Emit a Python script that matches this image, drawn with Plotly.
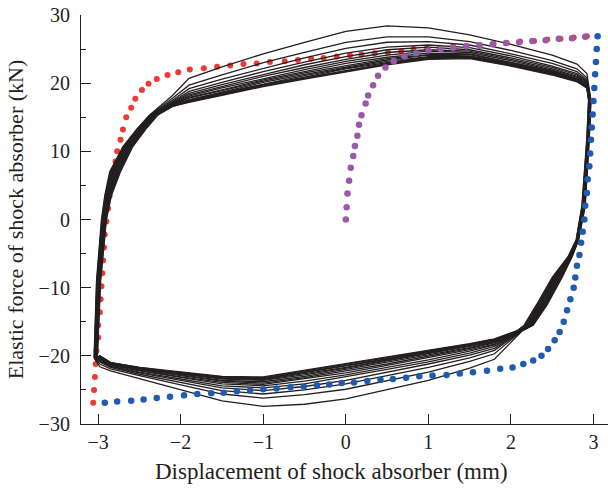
import plotly.graph_objects as go

# ---------------- data ----------------
# Hysteresis loops (outermost first cycle -> innermost stabilised cycle)
# upper branch: shared x knots, y per cycle
X_TOP = [-2.1, -1.9, -1.5, -1.0, -0.5, 0.0, 0.5, 1.0, 1.5, 2.0, 2.5, 2.8, 2.92]
TOP_Y = [
    [18.2, 20.7, 22.4, 24.3, 26.0, 27.6, 28.4, 28.1, 27.1, 25.7, 24.1, 22.8, 21.4],
    [17.8, 19.7, 21.2, 23.0, 24.5, 26.0, 26.8, 26.8, 26.1, 24.8, 23.3, 22.1, 20.8],
    [17.5, 19.2, 20.6, 22.2, 23.7, 25.1, 26.0, 26.1, 25.6, 24.3, 22.9, 21.7, 20.5],
    [17.3, 18.8, 20.1, 21.7, 23.1, 24.4, 25.3, 25.6, 25.2, 24.0, 22.5, 21.4, 20.3],
    [17.2, 18.5, 19.8, 21.3, 22.7, 23.9, 24.9, 25.3, 24.9, 23.7, 22.3, 21.2, 20.1],
    [17.1, 18.3, 19.5, 21.0, 22.3, 23.5, 24.5, 24.9, 24.7, 23.5, 22.1, 21.0, 20.0],
    [17.0, 18.1, 19.3, 20.7, 22.0, 23.2, 24.1, 24.7, 24.5, 23.3, 21.9, 20.9, 19.8],
    [16.9, 17.9, 19.0, 20.5, 21.7, 22.9, 23.8, 24.4, 24.3, 23.1, 21.8, 20.7, 19.7],
    [16.9, 17.8, 18.9, 20.3, 21.5, 22.6, 23.6, 24.2, 24.2, 23.0, 21.7, 20.6, 19.6],
    [16.8, 17.6, 18.7, 20.1, 21.3, 22.4, 23.4, 24.1, 24.0, 22.9, 21.6, 20.5, 19.6],
    [16.7, 17.5, 18.6, 19.9, 21.1, 22.2, 23.2, 23.9, 23.9, 22.8, 21.5, 20.4, 19.5],
    [16.7, 17.4, 18.5, 19.8, 20.9, 22.1, 23.0, 23.8, 23.8, 22.7, 21.4, 20.4, 19.4],
    [16.7, 17.3, 18.4, 19.7, 20.8, 21.9, 22.9, 23.7, 23.7, 22.6, 21.3, 20.3, 19.4],
    [16.6, 17.3, 18.3, 19.6, 20.7, 21.8, 22.8, 23.6, 23.7, 22.6, 21.3, 20.3, 19.3],
    [16.6, 17.2, 18.2, 19.5, 20.6, 21.7, 22.7, 23.5, 23.6, 22.5, 21.2, 20.2, 19.3],
]
# lower branch: shared x knots (right to left), y per cycle
X_BOT = [1.8, 1.5, 1.0, 0.5, 0.0, -0.5, -1.0, -1.5, -2.0, -2.5, -2.85, -2.98]
BOT_Y = [
    [-20.5, -21.8, -23.6, -25.0, -26.3, -27.1, -27.4, -26.6, -25.0, -23.4, -22.2, -21.6],
    [-19.7, -20.8, -22.4, -23.7, -24.9, -25.7, -26.2, -25.6, -24.3, -22.9, -21.9, -21.2],
    [-19.2, -20.3, -21.7, -22.9, -24.1, -25.0, -25.6, -25.1, -23.9, -22.7, -21.7, -20.9],
    [-18.9, -19.9, -21.2, -22.4, -23.6, -24.5, -25.1, -24.7, -23.6, -22.5, -21.6, -20.7],
    [-18.6, -19.6, -20.9, -22.0, -23.1, -24.1, -24.7, -24.4, -23.4, -22.4, -21.5, -20.6],
    [-18.4, -19.3, -20.6, -21.7, -22.8, -23.7, -24.4, -24.1, -23.2, -22.2, -21.4, -20.5],
    [-18.3, -19.1, -20.3, -21.4, -22.5, -23.4, -24.2, -23.9, -23.1, -22.1, -21.3, -20.4],
    [-18.1, -18.9, -20.1, -21.2, -22.2, -23.2, -24.0, -23.7, -22.9, -22.0, -21.2, -20.3],
    [-18.0, -18.8, -19.9, -21.0, -22.0, -23.0, -23.8, -23.6, -22.8, -22.0, -21.2, -20.3],
    [-17.9, -18.6, -19.7, -20.8, -21.8, -22.8, -23.6, -23.4, -22.7, -21.9, -21.1, -20.2],
    [-17.8, -18.5, -19.6, -20.6, -21.7, -22.6, -23.5, -23.3, -22.6, -21.9, -21.1, -20.1],
    [-17.7, -18.4, -19.5, -20.5, -21.5, -22.5, -23.4, -23.2, -22.6, -21.8, -21.1, -20.1],
    [-17.6, -18.3, -19.4, -20.4, -21.4, -22.4, -23.3, -23.1, -22.5, -21.8, -21.0, -20.1],
    [-17.6, -18.3, -19.3, -20.3, -21.3, -22.3, -23.2, -23.1, -22.5, -21.7, -21.0, -20.0],
    [-17.5, -18.2, -19.2, -20.2, -21.2, -22.2, -23.1, -23.0, -22.4, -21.7, -21.0, -20.0],
]
# left (rising) side: outer / inner edges of the band
Y_LEFT = [-20.3, -9.0, 0.0, 3.5, 7.0, 10.7, 13.3, 15.3]
X_LEFT_OUT = [-3.05, -3.02, -2.96, -2.92, -2.86, -2.70, -2.53, -2.38]
X_LEFT_IN = [-3.01, -2.97, -2.90, -2.84, -2.73, -2.58, -2.42, -2.28]
# right (falling) side: outer / inner edges of the band
Y_RIGHT = [17.5, 12.0, 2.0, -3.0, -5.5, -8.5, -12.5, -15.5, -16.3]
X_RIGHT_OUT = [2.97, 2.95, 2.90, 2.82, 2.74, 2.62, 2.44, 2.27, 2.14]
X_RIGHT_IN = [2.94, 2.92, 2.86, 2.79, 2.69, 2.50, 2.31, 2.16, 2.08]
# position of each cycle inside the side bands (1 = outer edge, 0 = inner edge)
SIDE_POS = [1.0, 0.93, 0.86, 0.79, 0.72, 0.65, 0.58, 0.5, 0.43, 0.36, 0.29, 0.22, 0.15, 0.07, 0.0]

# dotted reference curves (one point per dot)
RED_X = [-3.06, -3.05, -3.04, -3.03, -3.02, -3.0, -3.0, -2.98, -2.97, -2.96, -2.95, -2.94,
         -2.93, -2.92, -2.9, -2.88, -2.86, -2.84, -2.81, -2.79, -2.77, -2.73, -2.7, -2.66,
         -2.6, -2.55, -2.47, -2.39, -2.29, -2.16, -2.03, -1.89, -1.72, -1.56, -1.4, -1.24,
         -1.08, -0.92, -0.74, -0.58, -0.42, -0.27, -0.11, 0.05, 0.19, 0.35, 0.51, 0.67,
         0.82, 0.98, 1.14, 1.3, 1.46, 1.62, 1.79, 1.95, 2.11, 2.28, 2.44, 2.6, 2.76, 2.92]
RED_Y = [-26.9, -25.0, -23.1, -21.2, -19.3, -17.3, -15.5, -13.6, -11.7, -9.8, -7.9, -6.0,
         -4.1, -2.2, -0.3, 1.6, 3.5, 5.2, 6.9, 8.5, 10.0, 11.7, 13.2, 15.0,
         16.4, 17.7, 19.0, 19.9, 20.6, 21.2, 21.6, 22.0, 22.2, 22.4, 22.6, 22.8,
         22.9, 23.1, 23.2, 23.4, 23.6, 23.7, 23.9, 24.1, 24.2, 24.4, 24.5, 24.7,
         25.0, 25.1, 25.2, 25.4, 25.5, 25.6, 25.8, 25.9, 26.1, 26.2, 26.4, 26.5, 26.7, 26.9]

BLUE_X = [-2.92, -2.77, -2.6, -2.45, -2.29, -2.13, -1.96, -1.8, -1.63, -1.48, -1.32, -1.16,
          -1.0, -0.84, -0.67, -0.51, -0.35, -0.2, -0.05, 0.1, 0.26, 0.42, 0.57, 0.73,
          0.89, 1.05, 1.22, 1.38, 1.54, 1.71, 1.87, 2.02, 2.15, 2.27, 2.37, 2.45,
          2.53, 2.59, 2.64, 2.68, 2.72, 2.76, 2.78, 2.8, 2.83, 2.85, 2.87, 2.89,
          2.9, 2.92, 2.93, 2.95, 2.96, 2.97, 2.98, 2.99, 3.0, 3.01, 3.02, 3.03, 3.04, 3.05]
BLUE_Y = [-26.9, -26.7, -26.6, -26.4, -26.2, -26.0, -25.8, -25.6, -25.5, -25.4, -25.2, -25.1,
          -24.9, -24.8, -24.6, -24.5, -24.3, -24.2, -24.0, -23.9, -23.7, -23.5, -23.4, -23.2,
          -23.0, -22.9, -22.8, -22.6, -22.4, -22.2, -21.9, -21.7, -21.2, -20.7, -20.0, -19.0,
          -17.7, -16.5, -15.0, -13.3, -11.7, -10.0, -8.5, -6.8, -5.2, -3.4, -1.8, 0.0,
          2.0, 3.9, 5.9, 7.8, 9.7, 11.7, 13.5, 15.4, 17.4, 19.3, 21.3, 23.1, 25.0, 26.9]

PURPLE_X = [0.0, 0.01, 0.02, 0.04, 0.06, 0.09, 0.11, 0.14, 0.16, 0.19, 0.24, 0.27, 0.33,
            0.39, 0.48, 0.58, 0.71, 0.85, 1.0, 1.15, 1.3, 1.46, 1.62, 1.78, 1.94, 2.1,
            2.26, 2.42, 2.58, 2.74, 2.9]
PURPLE_Y = [0.0, 1.8, 3.8, 5.7, 7.6, 9.3, 10.8, 12.3, 13.9, 15.3, 17.0, 18.2, 19.7,
            21.1, 22.3, 23.2, 23.9, 24.4, 24.8, 25.0, 25.2, 25.4, 25.5, 25.7, 25.9, 26.0,
            26.2, 26.3, 26.5, 26.6, 26.8]

X_TICKS = [-3, -2, -1, 0, 1, 2, 3]
Y_TICKS = [-30, -20, -10, 0, 10, 20, 30]
Y_MINOR = [-25, -15, -5, 5, 15, 25]

INK = "#231f20"
RED = "#ee3a33"
BLUE = "#1f5cb0"
PURPLE = "#9b5aa8"

fig = go.Figure()

fig.add_trace(go.Scatter(x=RED_X, y=RED_Y, mode="markers",
                         marker=dict(color=RED, size=6, line=dict(width=0)),
                         hoverinfo="skip"))

for k in range(len(TOP_Y)):
    s = SIDE_POS[k]
    xl = [xi + s * (xo - xi) for xo, xi in zip(X_LEFT_OUT, X_LEFT_IN)]
    xr = [xi + s * (xo - xi) for xo, xi in zip(X_RIGHT_OUT, X_RIGHT_IN)]
    xs = xl + X_TOP + xr + X_BOT + [xl[0]]
    ys = Y_LEFT + TOP_Y[k] + Y_RIGHT + BOT_Y[k] + [Y_LEFT[0]]
    fig.add_trace(go.Scatter(x=xs, y=ys, mode="lines",
                             line=dict(color=INK, width=1.3),
                             hoverinfo="skip"))

fig.add_trace(go.Scatter(x=BLUE_X, y=BLUE_Y, mode="markers",
                         marker=dict(color=BLUE, size=6.5, line=dict(width=0)),
                         hoverinfo="skip"))
fig.add_trace(go.Scatter(x=PURPLE_X, y=PURPLE_Y, mode="markers",
                         marker=dict(color=PURPLE, size=6.5, line=dict(width=0)),
                         hoverinfo="skip"))

fig.update_layout(
    width=608, height=489,
    margin=dict(l=81, r=0, t=15, b=65),
    plot_bgcolor="white", paper_bgcolor="white",
    showlegend=False,
    font=dict(family="Liberation Serif", size=20, color=INK),
    annotations=[dict(
        text="Displacement of shock absorber (mm)",
        xref="paper", yref="paper", x=0.4744, y=-0.115,
        xanchor="center", yanchor="middle", showarrow=False,
        font=dict(size=23, color=INK),
    )],
)
fig.update_xaxes(
    range=[-3.208, 3.176], showgrid=False, zeroline=False,
    showline=True, linecolor=INK, linewidth=1.2,
    ticks="inside", ticklen=10, tickwidth=1.2, tickcolor=INK,
    tickvals=X_TICKS, ticklabelstandoff=0,
)
fig.update_yaxes(
    range=[-30, 30], showgrid=False, zeroline=False,
    showline=True, linecolor=INK, linewidth=1.2,
    ticks="inside", ticklen=10, tickwidth=1.2, tickcolor=INK,
    tickvals=Y_TICKS, ticklabelstandoff=6,
    minor=dict(ticks="inside", ticklen=5, tickwidth=1.2, tickcolor=INK, tickvals=Y_MINOR),
    title=dict(text="Elastic force of shock absorber (kN)", font=dict(size=22), standoff=8),
)

fig.write_html("out.html")
